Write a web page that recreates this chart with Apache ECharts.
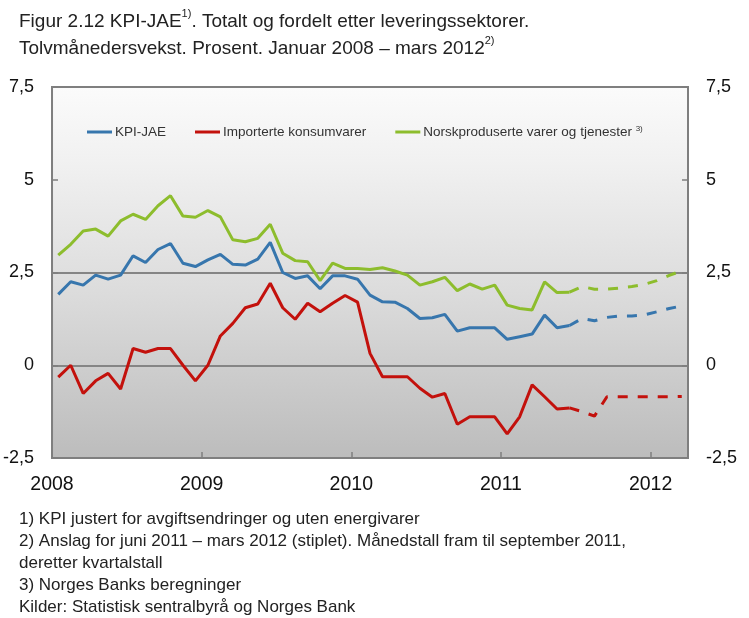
<!DOCTYPE html>
<html>
<head>
<meta charset="utf-8">
<script src="https://cdn.jsdelivr.net/npm/echarts@6/dist/echarts.min.js"></script>
<style>
html,body{margin:0;padding:0;background:#fff;}
#chart{width:749px;height:618px;}
</style>
</head>
<body>
<div id="chart"></div>
<script>
// Monthly data, January 2008 .. June 2011 (actual, solid)
const kpiJae = [
  1.91, 2.25, 2.16, 2.43, 2.32, 2.43, 2.95, 2.77, 3.12, 3.28, 2.75, 2.66,
  2.84, 2.99, 2.72, 2.70, 2.86, 3.31, 2.50, 2.34, 2.41, 2.06, 2.41, 2.41,
  2.32, 1.89, 1.71, 1.70, 1.53, 1.26, 1.28, 1.37, 0.92, 1.01, 1.01, 1.01,
  0.70, 0.77, 0.84, 1.35, 1.01, 1.07
];
const importerte = [
  -0.32, 0.00, -0.76, -0.42, -0.22, -0.64, 0.45, 0.35, 0.45, 0.45, 0.00, -0.42,
  0.00, 0.79, 1.13, 1.55, 1.65, 2.21, 1.55, 1.24, 1.67, 1.44, 1.67, 1.88,
  1.70, 0.32, -0.31, -0.31, -0.31, -0.62, -0.86, -0.76, -1.59, -1.39, -1.39, -1.39,
  -1.85, -1.39, -0.53, -0.85, -1.18, -1.15
];
const norskprod = [
  2.97, 3.26, 3.62, 3.67, 3.48, 3.89, 4.07, 3.93, 4.30, 4.57, 4.02, 3.99,
  4.17, 4.00, 3.38, 3.33, 3.42, 3.80, 3.02, 2.82, 2.79, 2.28, 2.75, 2.61,
  2.61, 2.58, 2.63, 2.54, 2.43, 2.16, 2.25, 2.37, 2.01, 2.19, 2.05, 2.16,
  1.62, 1.53, 1.49, 2.25, 1.96, 1.97
];
// Projections June 2011 .. March 2012 (dashed)
const kpiJaeAnslag     = [1.07, 1.26, 1.20, 1.29, 1.33, 1.33, 1.36, 1.44, 1.53, 1.60];
const importerteAnslag = [-1.15, -1.25, -1.37, -0.85, -0.85, -0.85, -0.85, -0.85, -0.85, -0.84];
const norskprodAnslag  = [1.97, 2.12, 2.05, 2.05, 2.08, 2.12, 2.18, 2.28, 2.42, 2.55];

const startYear = 2008;
const nMonths = 51;          // Jan 2008 .. Mar 2012
const anslagStart = 41;      // June 2011 (month index)

const seriesNames = ['KPI-JAE', 'Importerte konsumvarer', 'Norskproduserte varer og tjenester'];
const colors = ['#3776ad', '#c3110c', '#8dbd2d'];

function toPairs(arr, start) { return arr.map((v, i) => [start + i + 0.5, v]); }

const chart = echarts.init(document.getElementById('chart'), null, {renderer: 'canvas'});
const FONT = 'Liberation Sans, Arial, sans-serif';

const solid = [kpiJae, importerte, norskprod];
const dashed = [kpiJaeAnslag, importerteAnslag, norskprodAnslag];
const series = [];
for (let k = 0; k < 3; k++) {
  series.push({
    name: seriesNames[k], type: 'line', symbol: 'none', data: toPairs(solid[k], 0),
    lineStyle: {color: colors[k], width: 3}, itemStyle: {color: colors[k]}, z: 3
  });
}
for (let k = 0; k < 3; k++) {
  series.push({
    name: seriesNames[k], type: 'line', symbol: 'none', data: toPairs(dashed[k], anslagStart),
    lineStyle: {color: colors[k], width: 3, type: [10, 10]}, itemStyle: {color: colors[k]}, z: 3
  });
}

const fmtY = v => String(v).replace('.', ',');
const yAxisCommon = {
  type: 'value', min: -2.5, max: 7.5, interval: 2.5,
  axisLine: {show: false},
  axisTick: {show: true, inside: true, length: 6, lineStyle: {color: '#7f7f7f', width: 1.5}},
  axisLabel: {formatter: fmtY, fontFamily: FONT, fontSize: 18, color: '#111', margin: 18},
  splitLine: {show: true, lineStyle: {color: ['transparent', '#858585', '#858585', 'transparent', 'transparent'], width: 2}}
};

chart.setOption({
  animation: false,
  backgroundColor: '#ffffff',
  title: {
    left: 19, top: 8, padding: 0,
    text: 'Figur 2.12 KPI-JAE{sup|1)}. Totalt og fordelt etter leveringssektorer.\nTolvmånedersvekst. Prosent. Januar 2008 – mars 2012{sup|2)}',
    textStyle: {
      fontFamily: FONT, fontSize: 19, fontWeight: 'normal', color: '#222', lineHeight: 27,
      rich: {sup: {fontFamily: FONT, fontSize: 11, color: '#222', verticalAlign: 'top', lineHeight: 20}}
    }
  },
  legend: {
    left: 82, top: 120,
    data: seriesNames,
    itemWidth: 25, itemHeight: 14, itemGap: 29,
    icon: 'path://M0,6 L25,6 L25,9 L0,9 Z',
    formatter: name => name === seriesNames[2] ? name + ' {sup|3)}' : name,
    textStyle: {
      fontFamily: FONT, fontSize: 13.5, color: '#333', padding: [0, 0, 0, -2],
      rich: {sup: {fontFamily: FONT, fontSize: 8, color: '#333', verticalAlign: 'top', lineHeight: 10}}
    }
  },
  grid: {
    left: 52, right: 61, top: 87, bottom: 160,
    show: true, borderColor: '#7f7f7f', borderWidth: 2,
    backgroundColor: new echarts.graphic.LinearGradient(0, 0, 0, 1, [
      {offset: 0, color: '#fbfbfb'},
      {offset: 0.2, color: '#f1f1f1'},
      {offset: 0.55, color: '#dcdcdc'},
      {offset: 1, color: '#bcbcbc'}
    ])
  },
  xAxis: {
    type: 'value', min: 0, max: nMonths, interval: 12,
    axisLine: {show: false, onZero: false},
    splitLine: {show: false},
    axisTick: {show: true, inside: true, length: 6, lineStyle: {color: '#7f7f7f', width: 1.5}},
    axisLabel: {
      fontFamily: FONT, fontSize: 19.5, color: '#111', margin: 17, showMaxLabel: false,
      formatter: v => (v % 12 === 0 ? String(startYear + v / 12) : '')
    }
  },
  yAxis: [
    Object.assign({position: 'left'}, yAxisCommon),
    Object.assign({position: 'right'}, yAxisCommon)
  ],
  graphic: [
    {type: 'text', left: 19, top: 508, style: {text: '1) KPI justert for avgiftsendringer og uten energivarer\n2) Anslag for juni 2011 – mars 2012 (stiplet). Månedstall fram til september 2011,\nderetter kvartalstall\n3) Norges Banks beregninger\nKilder: Statistisk sentralbyrå og Norges Bank', fontFamily: FONT, fontSize: 17, lineHeight: 22, fill: '#222'}}
  ],
  series: series
});
</script>
</body>
</html>
